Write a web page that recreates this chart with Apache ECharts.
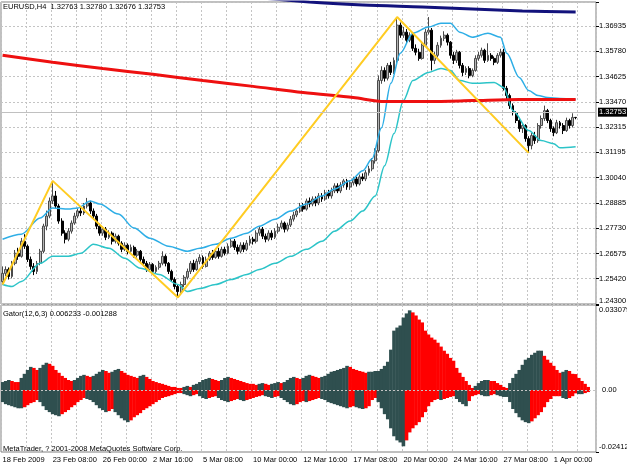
<!DOCTYPE html>
<html><head><meta charset="utf-8">
<script src="https://cdn.jsdelivr.net/npm/echarts@6/dist/echarts.min.js"></script>
<style>html,body{margin:0;padding:0;background:#fff}#c{width:627px;height:470px}</style>
</head><body><div id="c"></div>
<script>
// ---------- data ----------
const timeLabels = ['18 Feb 2009','23 Feb 08:00','26 Feb 00:00','2 Mar 16:00','5 Mar 08:00','10 Mar 00:00','12 Mar 16:00','17 Mar 08:00','20 Mar 00:00','24 Mar 16:00','27 Mar 08:00','1 Apr 00:00'];
const priceTickLabels = ['1.24300','1.25420','1.26575','1.27730','1.28885','1.30040','1.31195','1.32315','1.33470','1.34625','1.35780','1.36935'];
const titleText = 'EURUSD,H4  1.32763 1.32780 1.32676 1.32753';
const gatorText = 'Gator(12,6,3) 0.006233 -0.001288';
const copyText = 'MetaTrader, ? 2001-2008 MetaQuotes Software Corp.';

// [open, high, low, close]
const ohlc = [
[1.2526,1.2595,1.2512,1.2563],[1.2563,1.2595,1.2550,1.2581],[1.2581,1.2590,1.2535,1.2549],[1.2549,1.2620,1.2540,1.2609],
[1.2609,1.2670,1.2600,1.2655],[1.2655,1.2680,1.2625,1.2641],[1.2641,1.2725,1.2635,1.2710],[1.2710,1.2742,1.2675,1.2687],
[1.2687,1.2695,1.2615,1.2627],[1.2627,1.2640,1.2580,1.2595],[1.2595,1.2610,1.2555,1.2572],[1.2572,1.2620,1.2560,1.2609],
[1.2609,1.2675,1.2600,1.2664],[1.2664,1.2790,1.2655,1.2779],[1.2779,1.2850,1.2760,1.2825],[1.2825,1.2910,1.2815,1.2894],
[1.2894,1.2986,1.2880,1.2917],[1.2917,1.2940,1.2860,1.2871],[1.2871,1.2880,1.2790,1.2802],[1.2802,1.2815,1.2735,1.2747],
[1.2747,1.2760,1.2700,1.2719],[1.2719,1.2770,1.2710,1.2756],[1.2756,1.2805,1.2745,1.2793],[1.2793,1.2840,1.2785,1.2825],
[1.2825,1.2860,1.2815,1.2848],[1.2848,1.2870,1.2825,1.2839],[1.2839,1.2885,1.2830,1.2871],[1.2871,1.2908,1.2860,1.2885],
[1.2885,1.2895,1.2835,1.2848],[1.2848,1.2860,1.2810,1.2825],[1.2825,1.2835,1.2765,1.2779],[1.2779,1.2790,1.2735,1.2747],
[1.2747,1.2775,1.2735,1.2765],[1.2765,1.2775,1.2715,1.2728],[1.2728,1.2760,1.2720,1.2747],[1.2747,1.2755,1.2695,1.2710],
[1.2710,1.2745,1.2700,1.2733],[1.2733,1.2740,1.2690,1.2701],[1.2701,1.2710,1.2660,1.2673],[1.2673,1.2705,1.2665,1.2692],
[1.2692,1.2700,1.2650,1.2664],[1.2664,1.2695,1.2655,1.2682],[1.2682,1.2690,1.2635,1.2646],[1.2646,1.2675,1.2635,1.2664],
[1.2664,1.2670,1.2615,1.2627],[1.2627,1.2640,1.2595,1.2609],[1.2609,1.2620,1.2570,1.2581],[1.2581,1.2615,1.2570,1.2604],
[1.2604,1.2610,1.2560,1.2572],[1.2572,1.2600,1.2560,1.2591],[1.2591,1.2620,1.2580,1.2609],[1.2609,1.2664,1.2600,1.2641],
[1.2641,1.2650,1.2595,1.2609],[1.2609,1.2615,1.2560,1.2572],[1.2572,1.2580,1.2525,1.2535],[1.2535,1.2545,1.2490,1.2503],
[1.2503,1.2510,1.2453,1.2480],[1.2480,1.2525,1.2470,1.2512],[1.2512,1.2555,1.2500,1.2545],[1.2545,1.2585,1.2535,1.2572],
[1.2572,1.2620,1.2560,1.2609],[1.2609,1.2625,1.2570,1.2581],[1.2581,1.2630,1.2575,1.2618],[1.2618,1.2650,1.2605,1.2636],
[1.2636,1.2645,1.2585,1.2595],[1.2595,1.2640,1.2590,1.2627],[1.2627,1.2665,1.2620,1.2655],[1.2655,1.2670,1.2625,1.2636],
[1.2636,1.2675,1.2630,1.2664],[1.2664,1.2680,1.2630,1.2641],[1.2641,1.2685,1.2635,1.2673],[1.2673,1.2685,1.2645,1.2655],
[1.2655,1.2700,1.2650,1.2687],[1.2687,1.2725,1.2680,1.2710],[1.2710,1.2720,1.2670,1.2682],[1.2682,1.2695,1.2650,1.2664],
[1.2664,1.2705,1.2655,1.2692],[1.2692,1.2705,1.2660,1.2673],[1.2673,1.2715,1.2665,1.2701],[1.2701,1.2735,1.2690,1.2719],
[1.2719,1.2730,1.2695,1.2710],[1.2710,1.2760,1.2700,1.2747],[1.2747,1.2780,1.2735,1.2765],[1.2765,1.2775,1.2720,1.2733],
[1.2733,1.2745,1.2705,1.2719],[1.2719,1.2760,1.2710,1.2747],[1.2747,1.2760,1.2715,1.2728],[1.2728,1.2770,1.2720,1.2756],
[1.2756,1.2790,1.2745,1.2774],[1.2774,1.2805,1.2765,1.2793],[1.2793,1.2800,1.2750,1.2765],[1.2765,1.2795,1.2755,1.2784],
[1.2784,1.2825,1.2775,1.2811],[1.2811,1.2845,1.2800,1.2830],[1.2830,1.2860,1.2820,1.2848],[1.2848,1.2885,1.2840,1.2871],
[1.2871,1.2885,1.2845,1.2857],[1.2857,1.2905,1.2850,1.2894],[1.2894,1.2910,1.2865,1.2880],[1.2880,1.2915,1.2870,1.2903],
[1.2903,1.2915,1.2870,1.2885],[1.2885,1.2930,1.2875,1.2917],[1.2917,1.2930,1.2890,1.2903],[1.2903,1.2945,1.2895,1.2931],
[1.2931,1.2945,1.2905,1.2917],[1.2917,1.2955,1.2905,1.2940],[1.2940,1.2975,1.2930,1.2963],[1.2963,1.2975,1.2930,1.2940],
[1.2940,1.2980,1.2930,1.2967],[1.2967,1.2995,1.2955,1.2986],[1.2986,1.2995,1.2945,1.2958],[1.2958,1.2990,1.2945,1.2977],
[1.2977,1.3005,1.2965,1.2995],[1.2995,1.3005,1.2960,1.2972],[1.2972,1.3015,1.2965,1.3004],[1.3004,1.3020,1.2985,1.2995],
[1.2995,1.3035,1.2985,1.3023],[1.3023,1.3055,1.3010,1.3041],[1.3041,1.3090,1.3030,1.3078],[1.3078,1.3135,1.3065,1.3124],
[1.3124,1.3468,1.3115,1.3445],[1.3445,1.3510,1.3430,1.3491],[1.3491,1.3505,1.3440,1.3455],[1.3455,1.3525,1.3445,1.3514],
[1.3514,1.3530,1.3470,1.3482],[1.3482,1.3550,1.3475,1.3537],[1.3537,1.3735,1.3525,1.3698],[1.3698,1.3710,1.3640,1.3652],
[1.3652,1.3690,1.3640,1.3666],[1.3666,1.3680,1.3615,1.3629],[1.3629,1.3665,1.3620,1.3652],[1.3652,1.3660,1.3580,1.3592],
[1.3592,1.3610,1.3560,1.3574],[1.3574,1.3590,1.3535,1.3546],[1.3546,1.3615,1.3540,1.3606],[1.3606,1.3680,1.3600,1.3666],
[1.3666,1.3735,1.3655,1.3675],[1.3675,1.3685,1.3491,1.3537],[1.3537,1.3575,1.3520,1.3560],[1.3560,1.3620,1.3550,1.3606],
[1.3606,1.3650,1.3595,1.3638],[1.3638,1.3670,1.3625,1.3652],[1.3652,1.3660,1.3605,1.3620],[1.3620,1.3625,1.3545,1.3560],
[1.3560,1.3575,1.3520,1.3537],[1.3537,1.3585,1.3525,1.3574],[1.3574,1.3580,1.3500,1.3514],[1.3514,1.3525,1.3465,1.3482],
[1.3482,1.3510,1.3470,1.3500],[1.3500,1.3510,1.3455,1.3468],[1.3468,1.3500,1.3460,1.3491],[1.3491,1.3560,1.3485,1.3546],
[1.3546,1.3575,1.3535,1.3560],[1.3560,1.3595,1.3550,1.3583],[1.3583,1.3590,1.3525,1.3537],[1.3537,1.3615,1.3530,1.3560],
[1.3560,1.3570,1.3535,1.3546],[1.3546,1.3555,1.3515,1.3528],[1.3528,1.3570,1.3520,1.3560],[1.3560,1.3590,1.3550,1.3574],
[1.3574,1.3590,1.3399,1.3409],[1.3409,1.3420,1.3360,1.3376],[1.3376,1.3385,1.3315,1.3330],[1.3330,1.3340,1.3285,1.3298],
[1.3298,1.3305,1.3250,1.3262],[1.3262,1.3270,1.3210,1.3225],[1.3225,1.3250,1.3205,1.3239],[1.3239,1.3245,1.3165,1.3179],
[1.3179,1.3190,1.3114,1.3147],[1.3147,1.3205,1.3130,1.3193],[1.3193,1.3210,1.3155,1.3170],[1.3170,1.3250,1.3160,1.3239],
[1.3239,1.3285,1.3225,1.3271],[1.3271,1.3330,1.3260,1.3307],[1.3307,1.3315,1.3250,1.3262],[1.3262,1.3270,1.3210,1.3225],
[1.3225,1.3235,1.3190,1.3206],[1.3206,1.3265,1.3200,1.3252],[1.3252,1.3260,1.3225,1.3239],[1.3239,1.3250,1.3200,1.3216],
[1.3216,1.3275,1.3210,1.3262],[1.3262,1.3270,1.3225,1.3239],[1.3239,1.3295,1.3230,1.3276],[1.32763,1.32780,1.32676,1.32753]
];

// [bar index, value]
const upperBand = [[0,1.2719],[6,1.2742],[12,1.2816],[16,1.2862],[21,1.2857],[24,1.2862],[28,1.2894],[31,1.2880],[37,1.2834],[42,1.2770],[47,1.2724],[53,1.2687],[59,1.2664],[63,1.2678],[68,1.2696],[73,1.2724],[78,1.2747],[82,1.2779],[87,1.2811],[92,1.2848],[97,1.2880],[102,1.2917],[106,1.2949],[111,1.2986],[115,1.3032],[118,1.3087],[121,1.3229],[124,1.3432],[127,1.3569],[131,1.3661],[136,1.3689],[140,1.3707],[143,1.3707],[146,1.3666],[150,1.3643],[155,1.3661],[159,1.3643],[161,1.3569],[165,1.3459],[168,1.3399],[171,1.3376],[174,1.3367],[178,1.3363],[183,1.3358]];
const lowerBand = [[0,1.2512],[3,1.2503],[6,1.2526],[12,1.2609],[16,1.2641],[21,1.2641],[25,1.2655],[29,1.2696],[34,1.2678],[39,1.2632],[44,1.2586],[50,1.2558],[56,1.2512],[59,1.2480],[63,1.2494],[68,1.2512],[73,1.2535],[78,1.2558],[82,1.2581],[87,1.2609],[92,1.2641],[97,1.2673],[102,1.2710],[106,1.2756],[111,1.2802],[115,1.2848],[119,1.2917],[122,1.3055],[125,1.3202],[128,1.3353],[131,1.3445],[136,1.3482],[140,1.3500],[143,1.3491],[146,1.3445],[150,1.3432],[157,1.3436],[160,1.3413],[163,1.3307],[168,1.3216],[172,1.3170],[176,1.3156],[178,1.3137],[183,1.3142]];
const redMA = [[0,1.3560],[16,1.3528],[32,1.3500],[48,1.3473],[64,1.3445],[80,1.3418],[96,1.3390],[112,1.3367],[122,1.3349],[136,1.3349],[150,1.3353],[165,1.3358],[183,1.3358]];
const navyMA = [[0,1.3920],[60,1.3850],[98,1.38038],[115,1.3790],[134,1.3781],[150,1.3772],[166,1.3763],[183,1.3758]];
const zigzag = [[0,1.2512],[16,1.2986],[56,1.2453],[126,1.3735],[168,1.3114]];

const gatorUpper = [
.0031,.0035,.0039,.0035,.0031,.0031,.0047,.0063,.0078,.0090,.0086,
.0078,.0086,.0098,.0106,.0102,.0094,.0078,.0067,.0055,.0047,.0039,.0035,
.0039,.0047,.0055,.0059,.0055,.0051,.0055,.0063,.0071,.0078,.0074,.0067,.0071,
.0078,.0082,.0074,.0067,.0059,.0055,.0051,.0047,.0055,.0059,.0051,.0043,.0035,.0031,
.0027,.0024,.0020,.0016,.0012,.0012,.0008,.0008,.0012,.0016,.0012,.0020,.0024,.0031,
.0039,.0043,.0047,.0043,.0039,.0035,.0039,.0047,.0051,.0047,.0043,.0039,.0035,.0031,
.0027,.0024,.0024,.0020,.0024,.0027,.0024,.0020,.0024,.0027,.0031,.0027,.0031,.0039,
.0047,.0051,.0047,.0043,.0047,.0055,.0059,.0055,.0051,.0047,.0051,.0055,.0063,.0071,
.0074,.0078,.0082,.0086,.0094,.0090,.0082,.0078,.0074,.0071,.0067,.0071,
.0071,.0074,.0074,.0082,.0094,.0110,.0157,.0231,.0243,.0251,.0282,.0298,.0310,.0302,.0290,.0274,.0263,.0231,.0216,.0204,
.0196,.0184,.0169,.0153,.0141,.0125,.0114,.0086,.0067,.0051,.0035,.0020,.0008,.0016,.0027,.0035,.0039,.0039,.0035,.0035,
.0027,.0020,.0012,.0008,.0027,.0047,.0063,.0078,.0098,.0118,.0125,.0137,.0145,.0153,.0153,.0133,.0118,.0106,.0094,.0078,
.0067,.0071,.0078,.0074,.0063,.0062,.0047,.0035,.0024,.0012
];
const gatorLower = [
-.0047,-.0055,-.0059,-.0063,-.0067,-.0071,-.0071,-.0067,-.0059,-.0051,-.0047,
-.0039,-.0047,-.0063,-.0078,-.0086,-.0094,-.0098,-.0102,-.0094,-.0086,-.0078,-.0067,
-.0059,-.0047,-.0039,-.0031,-.0035,-.0039,-.0047,-.0059,-.0071,-.0078,-.0086,-.0082,-.0074,
-.0086,-.0098,-.0110,-.0118,-.0125,-.0118,-.0106,-.0098,-.0090,-.0078,-.0071,-.0063,-.0055,-.0047,
-.0039,-.0031,-.0027,-.0024,-.0020,-.0016,-.0012,-.0012,-.0016,-.0020,-.0024,-.0020,-.0016,-.0024,
-.0031,-.0035,-.0031,-.0027,-.0024,-.0031,-.0039,-.0043,-.0047,-.0043,-.0039,-.0035,-.0039,-.0043,
-.0039,-.0035,-.0031,-.0027,-.0024,-.0020,-.0024,-.0027,-.0031,-.0027,-.0024,-.0031,-.0039,-.0047,
-.0055,-.0059,-.0055,-.0047,-.0043,-.0047,-.0043,-.0039,-.0035,-.0031,-.0035,-.0039,-.0047,-.0051,
-.0055,-.0059,-.0063,-.0067,-.0071,-.0067,-.0063,-.0067,-.0071,-.0074,-.0071,-.0063,
-.0039,-.0031,-.0047,-.0071,-.0094,-.0114,-.0149,-.0180,-.0196,-.0204,-.0219,-.0196,-.0165,-.0149,-.0137,-.0125,-.0106,-.0086,-.0063,-.0047,
-.0039,-.0035,-.0039,-.0035,-.0031,-.0027,-.0024,-.0035,-.0047,-.0055,-.0063,-.0043,-.0024,-.0020,-.0016,-.0020,-.0024,-.0024,-.0020,-.0016,
-.0020,-.0024,-.0027,-.0027,-.0047,-.0074,-.0090,-.0106,-.0118,-.0125,-.0129,-.0122,-.0110,-.0098,-.0086,-.0067,-.0047,-.0035,-.0024,-.0024,
-.0024,-.0031,-.0035,-.0031,-.0024,-.0013,-.0016,-.0016,-.0012,-.0008
];

// ---------- chart ----------
const N_BARS = 190;
const categories = Array.from({length: N_BARS}, (_, i) => String(i));
const PMIN = 1.24230, PMAX = 1.38038, PSTEP = 0.01155;
const GMIN = -0.02412, GMAX = 0.033079;
const FONT = 'Liberation Sans';
const FS = 7.5;
const RED = '#ff0000', GRAY = '#2f4f4f';
const gridLine = {color: '#c4c4c4', width: 1, type: [2, 2]};

function colorize(arr) {
  let prev = GRAY;
  return arr.map((v, i) => {
    let c = prev;
    if (i > 0) {
      const a = Math.abs(v), b = Math.abs(arr[i - 1]);
      if (a > b) c = GRAY; else if (a < b) c = RED;
    }
    prev = c;
    return {value: v, itemStyle: {color: c}};
  });
}

const txt = {fontFamily: FONT, fontSize: FS, color: '#000', fontWeight: 'normal'};
const last = ohlc[ohlc.length - 1][3];

const chart = echarts.init(document.getElementById('c'), null, {renderer: 'canvas'});
chart.setOption({
  animation: false,
  backgroundColor: '#ffffff',
  title: [
    {text: titleText, left: 3, top: 3, padding: 0, textStyle: txt},
    {text: gatorText, left: 3, top: 310, padding: 0, textStyle: txt},
    {text: copyText, left: 3, top: 445, padding: 0, textStyle: txt}
  ],
  grid: [
    {left: 1, right: 31, top: 2, height: 302, show: true, borderColor: '#808080', borderWidth: 1, backgroundColor: 'transparent', outerBoundsMode: 'none'},
    {left: 1, right: 31, top: 305, height: 147, show: true, borderColor: '#808080', borderWidth: 1, backgroundColor: 'transparent', outerBoundsMode: 'none'}
  ],
  xAxis: [
    {type: 'category', gridIndex: 0, data: categories, boundaryGap: true,
     axisLine: {show: false}, axisTick: {show: false}, axisLabel: {show: false},
     splitLine: {show: true, interval: (i) => i % 8 === 0, lineStyle: gridLine}},
    {type: 'category', gridIndex: 1, data: categories, boundaryGap: true,
     axisLine: {show: false},
     axisTick: {show: true, alignWithLabel: true, interval: (i) => i % 16 === 0, length: 4, lineStyle: {color: '#606060'}},
     axisLabel: {show: true, interval: (i) => i % 16 === 0, align: 'left', margin: 4,
       fontFamily: FONT, fontSize: FS, color: '#000',
       formatter: (v) => { const n = Number(v); return n % 16 === 0 ? (timeLabels[n / 16] || '') : ''; }},
     splitLine: {show: true, interval: (i) => i % 8 === 0, lineStyle: gridLine}}
  ],
  yAxis: [
    {type: 'value', gridIndex: 0, position: 'right', min: PMIN, max: PMAX, interval: PSTEP, scale: true,
     axisLine: {show: false},
     axisTick: {show: true, length: 3, lineStyle: {color: '#000'}},
     axisLabel: {show: true, margin: 3, fontFamily: FONT, fontSize: FS, color: '#000', lineHeight: 7,
       showMaxLabel: true, showMinLabel: true,
       formatter: (v) => {
         const n = Math.round((v - PMIN) / PSTEP);
         if (n === 0) return priceTickLabels[0] + '\n';
         return (n > 0 && n < priceTickLabels.length) ? priceTickLabels[n] : '';
       }},
     splitLine: {show: true, lineStyle: gridLine}},
    {type: 'value', gridIndex: 1, position: 'right', min: GMIN, max: GMAX, interval: GMAX - GMIN,
     axisLine: {show: false},
     axisTick: {show: true, length: 3, lineStyle: {color: '#000'}},
     axisLabel: {show: true, margin: 3, fontFamily: FONT, fontSize: FS, color: '#000', lineHeight: 10,
       showMaxLabel: true, showMinLabel: true,
       formatter: (v) => v > 0 ? '\n' + GMAX.toFixed(6) : (v < 0 ? GMIN.toFixed(5) + '\n' : '')},
     splitLine: {show: false}}
  ],
  series: [
    {type: 'candlestick', name: 'EURUSD', xAxisIndex: 0, yAxisIndex: 0, z: 2,
     barWidth: 2.4,
     data: ohlc.map(r => [r[0], r[3], r[2], r[1]]),
     itemStyle: {color: '#b4b4b4', color0: '#000000', borderColor: '#4a4a4a', borderColor0: '#000000', borderWidth: 1},
     markLine: {silent: true, symbol: ['none', 'none'],
       lineStyle: {color: '#c0c0c0', type: 'solid', width: 1},
       label: {show: true, position: 'end', distance: 2, formatter: () => last.toFixed(5),
         backgroundColor: '#000', color: '#fff', fontFamily: FONT, fontSize: FS, padding: [1, 1, 0, 1]},
       data: [{yAxis: last}]}},
    {type: 'line', name: 'upper', xAxisIndex: 0, yAxisIndex: 0, z: 3, data: upperBand, symbol: 'none',
     smooth: 0.3, smoothMonotone: 'x', lineStyle: {color: '#2eaee6', width: 1.5}},
    {type: 'line', name: 'lower', xAxisIndex: 0, yAxisIndex: 0, z: 3, data: lowerBand, symbol: 'none',
     smooth: 0.3, smoothMonotone: 'x', lineStyle: {color: '#2cc4c8', width: 1.5}},
    {type: 'line', name: 'ma1', xAxisIndex: 0, yAxisIndex: 0, z: 3, data: redMA, symbol: 'none',
     smooth: 0.3, lineStyle: {color: '#ee1010', width: 3}},
    {type: 'line', name: 'ma2', xAxisIndex: 0, yAxisIndex: 0, z: 3, data: navyMA, symbol: 'none', clip: true,
     smooth: 0.3, lineStyle: {color: '#12127c', width: 3}},
    {type: 'line', name: 'zigzag', xAxisIndex: 0, yAxisIndex: 0, z: 4, data: zigzag, symbol: 'none',
     lineStyle: {color: '#ffcc22', width: 2}},
    {type: 'bar', name: 'gatorUp', xAxisIndex: 1, yAxisIndex: 1, stack: 'g', barWidth: 3.6,
     data: colorize(gatorUpper),
     markLine: {silent: true, symbol: ['none', 'none'], lineStyle: {color: '#c4c4c4', type: [2, 2], width: 1},
       label: {show: true, position: 'end', distance: 6, formatter: '0.00', color: '#000', fontFamily: FONT, fontSize: FS},
       data: [{yAxis: 0}]}},
    {type: 'bar', name: 'gatorDn', xAxisIndex: 1, yAxisIndex: 1, stack: 'g', barWidth: 3.6,
     data: colorize(gatorLower)}
  ]
});
</script>
</body></html>
